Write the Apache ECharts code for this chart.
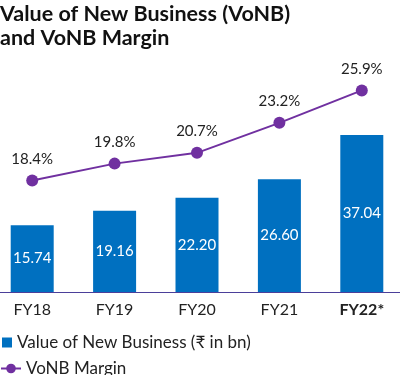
<!DOCTYPE html>
<html>
<head>
<meta charset="utf-8">
<script src="https://cdn.jsdelivr.net/npm/echarts@6/dist/echarts.min.js"></script>
<style>
  html, body { margin: 0; padding: 0; background: #fff; }
  #chart { width: 400px; height: 375px; }
</style>
</head>
<body>
<div id="chart"></div>
<script>
// data
var years = ['FY18', 'FY19', 'FY20', 'FY21', 'FY22*'];
var vonb = [15.74, 19.16, 22.20, 26.60, 37.04];
var margin = [18.4, 19.8, 20.7, 23.2, 25.9];

var barName = 'Value of New Business (\u20B9 in bn)';
var lineName = 'VoNB Margin';

var myChart = echarts.init(document.getElementById('chart'));

var option = {
    animation: false,
    textStyle: { fontFamily: 'Lato' },
    title: {
        text: 'Value of New Business (VoNB)\nand VoNB Margin',
        left: 0,
        top: 2,
        padding: 0,
        textStyle: {
            fontFamily: 'Lato',
            fontWeight: 'bold',
            fontSize: 21.5,
            lineHeight: 24,
            color: '#111'
        }
    },
    legend: [{
        data: [barName],
        orient: 'vertical',
        left: 2,
        top: 334,
        padding: 0,
        icon: 'rect',
        itemWidth: 10,
        itemHeight: 10,
        itemGap: 4,
        textStyle: { fontFamily: 'Lato', fontSize: 17, color: '#222' }
    }, {
        data: [lineName],
        orient: 'vertical',
        left: 0,
        top: 360,
        padding: 0,
        itemWidth: 20,
        itemHeight: 12,
        textStyle: { fontFamily: 'Lato', fontSize: 17, color: '#222' }
    }],
    grid: {
        left: -9,
        width: 412,
        top: 80,
        bottom: 83,
        outerBoundsMode: 'none',
        containLabel: false
    },
    xAxis: {
        type: 'category',
        data: years,
        axisTick: { show: false },
        axisLine: { lineStyle: { color: '#4b3f9a', width: 1 } },
        axisLabel: {
            interval: 0,
            margin: 10,
            fontFamily: 'Lato',
            fontSize: 16,
            color: '#222',
            formatter: function (v) {
                return v.indexOf('*') >= 0 ? '{b|' + v + '}' : v;
            },
            rich: {
                b: { fontFamily: 'Lato', fontSize: 16, fontWeight: 'bold', color: '#222' }
            }
        }
    },
    yAxis: [{
        type: 'value',
        min: 0,
        max: 50,
        show: false
    }, {
        type: 'value',
        min: 9.1,
        max: 26.77,
        show: false
    }],
    series: [{
        name: barName,
        type: 'bar',
        data: vonb,
        barWidth: 43,
        itemStyle: { color: '#0070c0' },
        label: {
            show: true,
            position: 'inside',
            fontFamily: 'Lato',
            fontSize: 15,
            color: '#fff',
            formatter: function (p) { return p.value.toFixed(2); }
        }
    }, {
        name: lineName,
        type: 'line',
        yAxisIndex: 1,
        data: margin,
        symbol: 'circle',
        symbolSize: 12,
        lineStyle: { color: '#7030a0', width: 2 },
        itemStyle: { color: '#7030a0' },
        label: {
            show: true,
            position: 'top',
            distance: 8,
            fontFamily: 'Lato',
            fontSize: 15,
            color: '#222',
            formatter: function (p) { return p.value.toFixed(1) + '%'; }
        }
    }]
};

myChart.setOption(option);
</script>
</body>
</html>
